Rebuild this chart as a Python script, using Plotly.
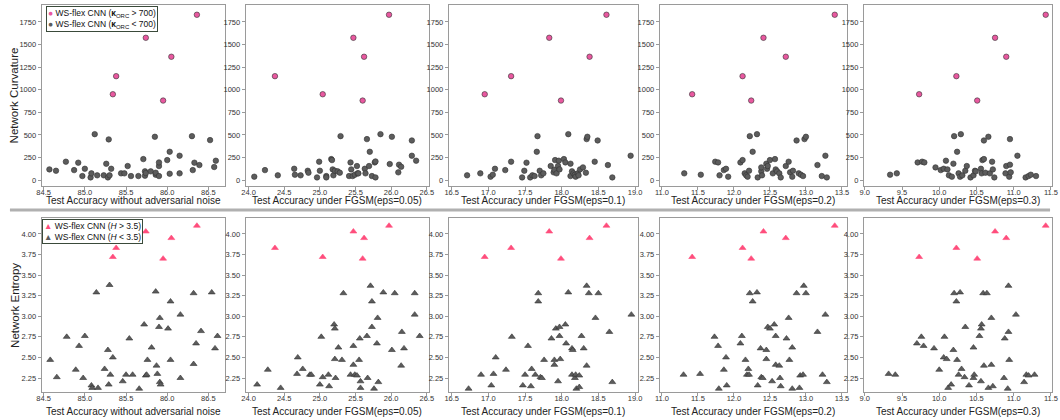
import plotly.graph_objects as go

W, H = 1060, 420

# ---------------- data ----------------
x_titles = ["Test Accuracy without adversarial noise",
            "Test Accuracy under FGSM(eps=0.05)",
            "Test Accuracy under FGSM(eps=0.1)",
            "Test Accuracy under FGSM(eps=0.2)",
            "Test Accuracy under FGSM(eps=0.3)"]
y_titles = ["Network Curvature", "Network Entropy"]
legend_top = ["WS-flex CNN (<b>κ</b><sub>ORC</sub> &gt; 700)",
              "WS-flex CNN (<b>κ</b><sub>ORC</sub> &lt; 700)"]
legend_bot = ["WS-flex CNN (<i>H</i> &gt; 3.5)",
              "WS-flex CNN (<i>H</i> &lt; 3.5)"]

# six high-curvature / high-entropy models (same models in both rows)
curv_hi = [1830, 1575, 1365, 1150, 950, 880]
ent_hi = [4.10, 4.03, 3.95, 3.83, 3.72, 3.70]
acc_clean_hi = [86.36, 85.74, 86.05, 85.38, 85.34, 85.95]
acc_e005_hi = [25.97, 25.47, 25.62, 24.37, 25.04, 25.60]
acc_e01_hi = [18.61, 17.83, 18.38, 17.31, 16.95, 17.99]
acc_e02_hi = [13.40, 12.41, 12.72, 12.12, 11.42, 12.24]
acc_e03_hi = [11.43, 10.75, 10.90, 10.23, 9.73, 10.51]

# ---- top row: low-curvature models ----
clean_top_x = [84.57, 84.65, 84.77, 84.87, 84.92, 84.97, 85.0, 85.07, 85.08, 85.15,
               85.12, 85.23, 85.26, 85.28, 85.3, 85.29, 85.32, 85.44, 85.48, 85.52,
               85.56, 85.65, 85.71, 85.73, 85.73, 85.74, 85.8, 85.85, 85.86, 85.86,
               85.9, 85.9, 85.9, 86.0, 86.03, 86.03, 86.15, 86.15, 86.3, 86.31,
               86.33, 86.39, 86.52, 86.57, 86.59]
clean_top_y = [118, 103, 203, 110, 192, 44, 125, 29, 74, 52,
               508, 52, 180, 29, 52, 450, 125, 74, 74, 155,
               44, 44, 232, 48, 96, 77, 96, 479, 59, 81,
               44, 155, 195, 221, 313, 70, 269, 74, 486, 110,
               192, 166, 442, 144, 214]

e005_top_x = [24.08, 24.23, 24.41, 24.64, 24.65, 24.73, 24.83, 24.84, 24.96, 24.99,
              25.0, 25.09, 25.09, 25.16, 25.17, 25.18, 25.19, 25.21, 25.25, 25.28,
              25.29, 25.41, 25.43, 25.44, 25.46, 25.49, 25.52, 25.53, 25.54, 25.63,
              25.64, 25.66, 25.69, 25.70, 25.73, 25.77, 25.78, 25.78, 25.85, 25.98,
              26.01, 26.10, 26.11, 26.14, 26.29, 26.29, 26.35]
e005_top_y = [37, 110, 52, 125, 59, 52, 103, 81, 29, 203,
              103, 44, 29, 232, 221, 118, 52, 103, 96, 81,
              486, 44, 195, 118, 44, 59, 155, 74, 74, 125,
              74, 453, 155, 313, 44, 195, 206, 29, 508, 177,
              479, 85, 170, 147, 438, 269, 214]

e01_top_x = [16.71, 16.89, 17.03, 17.06, 17.09, 17.23, 17.31, 17.46, 17.49, 17.52,
             17.57, 17.60, 17.63, 17.66, 17.67, 17.70, 17.72, 17.75, 17.85, 17.89,
             17.90, 17.91, 17.93, 17.96, 17.95, 17.97, 18.03, 18.05, 18.09, 18.12,
             18.12, 18.14, 18.16, 18.18, 18.19, 18.22, 18.23, 18.25, 18.29, 18.33,
             18.34, 18.35, 18.45, 18.49, 18.63, 18.69, 18.94]
e01_top_y = [52, 74, 37, 59, 125, 110, 203, 29, 103, 192,
             29, 52, 44, 313, 486, 103, 52, 74, 155, 85,
             114, 221, 74, 214, 155, 118, 232, 195, 508, 181,
             44, 96, 74, 59, 37, 74, 52, 118, 140, 81,
             453, 479, 203, 438, 166, 29, 269]

e02_top_x = [11.31, 11.54, 11.74, 11.78, 11.80, 11.86, 11.89, 11.92, 12.09, 12.12,
             12.15, 12.17, 12.19, 12.21, 12.22, 12.26, 12.32, 12.33, 12.38, 12.38,
             12.39, 12.45, 12.46, 12.47, 12.50, 12.54, 12.57, 12.58, 12.60, 12.63,
             12.65, 12.72, 12.76, 12.78, 12.81, 12.82, 12.87, 12.90, 12.93, 12.96,
             12.98, 13.0, 13.16, 13.22, 13.27, 13.29]
e02_top_y = [74, 59, 203, 195, 52, 110, 125, 37, 195, 221,
             74, 52, 37, 103, 486, 313, 508, 29, 96, 140,
             52, 181, 125, 155, 221, 74, 232, 118, 96, 74,
             29, 155, 203, 85, 37, 103, 438, 74, 59, 44,
             453, 479, 166, 44, 269, 29]

e03_top_x = [9.34, 9.43, 9.71, 9.77, 9.80, 9.95, 10.02, 10.06, 10.09, 10.11,
             10.13, 10.17, 10.19, 10.20, 10.24, 10.26, 10.29, 10.28, 10.31, 10.35,
             10.37, 10.42, 10.46, 10.48, 10.49, 10.56, 10.58, 10.57, 10.60, 10.62,
             10.60, 10.66, 10.68, 10.71, 10.72, 10.74, 10.89, 10.90, 10.94, 10.95,
             10.95, 10.96, 11.05, 11.16, 11.20, 11.23, 11.30]
e03_top_y = [59, 74, 195, 203, 195, 140, 110, 125, 214, 118,
             52, 37, 181, 486, 313, 74, 508, 37, 52, 103,
             155, 29, 52, 103, 96, 125, 221, 74, 232, 81,
             438, 479, 74, 203, 118, 29, 74, 155, 37, 453,
             170, 85, 269, 29, 44, 59, 44]

# ---- bottom row: low-entropy models ----
clean_bot_x = [84.58, 84.66, 84.78, 84.89, 84.93, 84.98, 85.0, 85.08, 85.09, 85.16,
               85.14, 85.24, 85.28, 85.29, 85.30, 85.31, 85.34, 85.46, 85.5, 85.54,
               85.58, 85.66, 85.72, 85.74, 85.75, 85.76, 85.81, 85.86, 85.87, 85.88,
               85.91, 85.90, 85.91, 85.92, 86.01, 86.04, 86.04, 86.16, 86.16, 86.32,
               86.32, 86.35, 86.41, 86.54, 86.58, 86.61]
clean_bot_y = [2.47, 2.26, 2.75, 2.35, 2.64, 2.25, 2.76, 2.16, 2.13, 2.13,
               3.29, 2.36, 2.59, 2.17, 3.38, 2.29, 2.50, 2.21, 2.29, 2.73,
               2.29, 2.12, 2.90, 2.28, 2.29, 2.47, 2.62, 3.30, 2.40, 2.30,
               2.98, 2.87, 2.20, 2.17, 2.85, 3.18, 2.47, 3.02, 2.25, 2.42,
               3.28, 2.67, 2.82, 3.29, 2.61, 2.76]

e005_bot_x = [24.12, 24.27, 24.45, 24.68, 24.69, 24.76, 24.86, 24.88, 25.0, 25.02,
              25.04, 25.12, 25.13, 25.2, 25.21, 25.21, 25.22, 25.26, 25.31, 25.33,
              25.43, 25.47, 25.47, 25.49, 25.52, 25.55, 25.56, 25.57, 25.57, 25.66,
              25.67, 25.71, 25.73, 25.73, 25.76, 25.81, 25.80, 25.82, 25.89, 26.01,
              26.05, 26.14, 26.15, 26.18, 26.33, 26.33, 26.40]
e005_bot_y = [2.17, 2.35, 2.13, 2.30, 2.50, 2.36, 2.29, 2.29, 2.17, 2.75,
              2.26, 2.29, 2.15, 2.90, 2.85, 2.48, 2.25, 2.62, 2.47, 3.28,
              2.29, 2.64, 2.41, 2.29, 2.28, 2.47, 2.73, 2.21, 2.13, 2.76,
              2.25, 3.37, 3.18, 2.87, 2.12, 2.98, 2.67, 2.20, 3.29, 2.59,
              3.28, 2.40, 2.81, 2.61, 3.28, 3.02, 2.76]

e01_bot_x = [16.73, 16.90, 17.04, 17.07, 17.10, 17.24, 17.32, 17.47, 17.50, 17.54,
             17.58, 17.59, 17.64, 17.68, 17.68, 17.71, 17.73, 17.76, 17.86, 17.90,
             17.90, 17.92, 17.95, 17.97, 17.97, 17.98, 18.05, 18.06, 18.09, 18.14,
             18.14, 18.15, 18.18, 18.19, 18.20, 18.24, 18.24, 18.27, 18.30, 18.34,
             18.34, 18.37, 18.46, 18.50, 18.65, 18.69, 18.95]
e01_bot_y = [2.12, 2.29, 2.16, 2.30, 2.50, 2.35, 2.75, 2.16, 2.29, 2.64,
             2.15, 2.36, 2.29, 3.18, 3.28, 2.26, 2.25, 2.47, 2.73, 2.41,
             2.47, 2.85, 2.21, 2.76, 2.87, 2.48, 2.90, 2.67, 3.29, 2.29,
             2.61, 2.59, 2.25, 2.29, 2.12, 2.14, 2.28, 2.76, 2.61, 3.37,
             2.40, 3.28, 2.98, 3.28, 2.81, 2.20, 3.02]

e02_bot_x = [11.30, 11.53, 11.73, 11.78, 11.79, 11.86, 11.89, 11.90, 12.09, 12.11,
             12.16, 12.18, 12.20, 12.21, 12.22, 12.26, 12.32, 12.33, 12.37, 12.38,
             12.40, 12.45, 12.45, 12.47, 12.50, 12.53, 12.56, 12.58, 12.58, 12.63,
             12.64, 12.65, 12.76, 12.73, 12.77, 12.81, 12.81, 12.87, 12.91, 12.92,
             12.96, 12.97, 13.0, 13.16, 13.23, 13.27, 13.29]
e02_bot_y = [2.29, 2.30, 2.75, 2.64, 2.12, 2.35, 2.50, 2.16, 2.67, 2.76,
             2.47, 2.29, 2.36, 2.29, 3.28, 3.18, 3.29, 2.16, 2.61, 2.26,
             2.25, 2.59, 2.48, 2.87, 2.85, 2.21, 2.90, 2.41, 2.76, 2.40,
             2.25, 2.15, 2.98, 2.73, 2.47, 2.62, 2.12, 3.28, 2.13, 2.28,
             2.29, 3.37, 3.28, 2.81, 2.29, 3.02, 2.20]

e03_bot_x = [9.32, 9.41, 9.70, 9.76, 9.79, 9.93, 10.0, 10.06, 10.07, 10.10,
             10.12, 10.16, 10.19, 10.20, 10.23, 10.24, 10.26, 10.28, 10.30, 10.34,
             10.35, 10.40, 10.46, 10.46, 10.47, 10.56, 10.54, 10.56, 10.57, 10.59,
             10.60, 10.64, 10.66, 10.70, 10.70, 10.72, 10.87, 10.88, 10.93, 10.93,
             10.92, 10.94, 11.03, 11.14, 11.17, 11.20, 11.28]
e03_bot_y = [2.30, 2.29, 2.67, 2.75, 2.64, 2.61, 2.35, 2.50, 2.75, 2.48,
             2.13, 2.17, 2.59, 3.28, 3.18, 2.47, 2.29, 3.29, 2.36, 2.26,
             2.87, 2.16, 2.62, 2.25, 2.29, 2.21, 2.76, 2.85, 2.90, 3.28,
             2.40, 3.28, 2.13, 2.98, 2.41, 2.15, 2.25, 2.73, 3.37, 2.81,
             2.12, 2.47, 3.02, 2.20, 2.29, 2.28, 2.29]

# ---------------- layout helpers ----------------
acc_hi = [acc_clean_hi, acc_e005_hi, acc_e01_hi, acc_e02_hi, acc_e03_hi]
top_lo = [(clean_top_x, clean_top_y), (e005_top_x, e005_top_y), (e01_top_x, e01_top_y),
          (e02_top_x, e02_top_y), (e03_top_x, e03_top_y)]
bot_lo = [(clean_bot_x, clean_bot_y), (e005_bot_x, e005_bot_y), (e01_bot_x, e01_bot_y),
          (e02_bot_x, e02_bot_y), (e03_bot_x, e03_bot_y)]

col_px = [(37, 222), (243, 428), (448, 639), (661, 850), (867, 1057)]
row_px = [(5, 186), (218, 392)]
xtitle_y = [200.5, 411]
ytitle_x = 10
x_ranges = [[84.476, 86.70], [23.96, 26.53], [16.46, 19.04], [10.97, 13.57], [8.987, 11.515]]
x_tick0 = [84.5, 24.0, 16.5, 11.0, 9.0]
y_ranges = [[-66, 1938], [2.08, 4.194]]

PINK_C = "#e8589f"
PINK_T = "#ff4d7c"
GRAY = "#5c5c5c"
EDGE = "#333333"
FONT = "Liberation Sans, Arial, sans-serif"

fig = go.Figure()
layout = dict(width=W, height=H, margin=dict(l=0, r=0, t=0, b=0),
              paper_bgcolor="white", plot_bgcolor="white", showlegend=False,
              font=dict(family=FONT, color="#222"))

for r in range(2):
    for c in range(5):
        i = r * 5 + c + 1
        xa = "x" if i == 1 else f"x{i}"
        ya = "y" if i == 1 else f"y{i}"
        if r == 0:
            lx, ly = top_lo[c]
            hy = curv_hi
            sym, pink, size = "circle", PINK_C, 5.5
        else:
            lx, ly = bot_lo[c]
            hy = ent_hi
            sym, pink, size = "triangle-up", PINK_T, 6
        fig.add_trace(go.Scatter(x=lx, y=ly, mode="markers", xaxis=xa, yaxis=ya,
                                 name=(legend_top if r == 0 else legend_bot)[1],
                                 marker=dict(symbol=sym, size=size, color=GRAY,
                                             line=dict(color=EDGE, width=0.6))))
        fig.add_trace(go.Scatter(x=acc_hi[c], y=hy, mode="markers", xaxis=xa, yaxis=ya,
                                 name=(legend_top if r == 0 else legend_bot)[0],
                                 marker=dict(symbol=sym, size=size, color=pink,
                                             line=dict(color=EDGE if r == 0 else pink,
                                                       width=0.6))))
        x0, x1 = col_px[c]
        y0, y1 = row_px[r]
        common = dict(showline=True, mirror=True, linecolor="#9a9a9a", linewidth=1,
                      ticks="outside", ticklen=3, tickcolor="#9a9a9a",
                      tickfont=dict(size=7.5, color="#333", family=FONT),
                      showgrid=False, zeroline=False)
        layout["xaxis" if i == 1 else f"xaxis{i}"] = dict(
            domain=[x0 / W, x1 / W], range=x_ranges[c], anchor=ya,
            tick0=x_tick0[c], dtick=0.5, tickformat=".1f", ticklabelstandoff=-4,
            **common)
        ydict = dict(domain=[1 - y1 / H, 1 - y0 / H], range=y_ranges[r], anchor=xa,
                     **common)
        if r == 0:
            ydict.update(tick0=0, dtick=250)
        else:
            ydict.update(tick0=2.25, dtick=0.25, tickformat=".2f")
        layout["yaxis" if i == 1 else f"yaxis{i}"] = ydict

fig.update_layout(**layout)

# axis titles
for r in range(2):
    for c in range(5):
        x0, x1 = col_px[c]
        fig.add_annotation(text=x_titles[c], xref="paper", yref="paper",
                           x=(x0 + x1) / 2 / W, y=1 - xtitle_y[r] / H,
                           xanchor="center", yanchor="middle", showarrow=False,
                           font=dict(size=10, color="#222", family=FONT))
    y0, y1 = row_px[r]
    fig.add_annotation(text=y_titles[r], xref="paper", yref="paper", textangle=-90,
                       x=ytitle_x / W, y=1 - (y0 + y1) / 2 / H,
                       xanchor="center", yanchor="middle", showarrow=False,
                       font=dict(size=11.5, color="#222", family=FONT))

# separator between the two rows
fig.add_shape(type="line", xref="paper", yref="paper", x0=5 / W, x1=1055 / W,
              y0=1 - 210 / H, y1=1 - 210 / H, line=dict(color="#b0b0b0", width=3))

# legends (boxed, upper-left of first panel in each row)
top_leg_text = (f'<span style="color:{PINK_C}">●</span> {legend_top[0]}<br>'
                f'<span style="color:{GRAY}">●</span> {legend_top[1]}')
bot_leg_text = (f'<span style="color:{PINK_T}">▲</span> {legend_bot[0]}<br>'
                f'<span style="color:{GRAY}">▲</span> {legend_bot[1]}')
fig.add_annotation(text=top_leg_text, xref="paper", yref="paper", x=41 / W, y=1 - 6 / H,
                   xanchor="left", yanchor="top", align="left", showarrow=False,
                   font=dict(size=8.5, color="#111", family=FONT), bgcolor="white",
                   bordercolor="#3a4a3a", borderwidth=1, borderpad=1)
fig.add_annotation(text=bot_leg_text, xref="paper", yref="paper", x=37 / W, y=1 - 219 / H,
                   xanchor="left", yanchor="top", align="left", showarrow=False,
                   font=dict(size=8.5, color="#111", family=FONT), bgcolor="white",
                   bordercolor="#3a4a3a", borderwidth=1, borderpad=1)

fig.write_html("out.html", config={"displayModeBar": False},
               post_script="document.body.style.margin='0px';document.body.style.overflow='hidden';")
